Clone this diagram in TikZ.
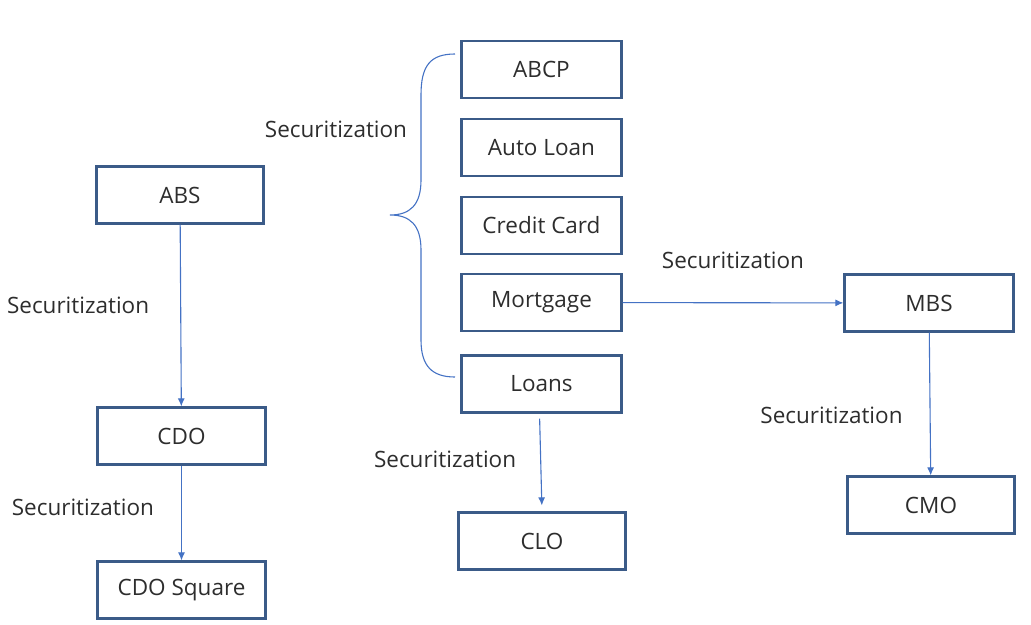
\documentclass[tikz,border=0pt]{standalone}
\usepackage{fontspec}
\setmainfont{Open Sans}
\usetikzlibrary{arrows,arrows.meta,calc,positioning}
\definecolor{boxline}{RGB}{59,91,136}
\definecolor{arrline}{RGB}{68,114,196}
\definecolor{txt}{RGB}{45,45,45}
\tikzstyle{int}=[draw=boxline,line width=2.2pt,minimum height=57pt,inner sep=0pt,text=txt,font=\fontsize{22.5}{27}\selectfont]
\tikzstyle{sec}=[text=txt,inner sep=0pt,font=\fontsize{22.5}{27}\selectfont]
\tikzstyle{arr}=[draw=arrline,line width=1.1pt]

\begin{document}
\begin{tikzpicture}[
      x=1pt,y=-1pt,
      >={Latex[length=8pt,width=7pt]},
      auto
    ]
      \useasboundingbox (0,0) rectangle (1031,624);

      % left column
      \node [int,minimum width=167pt] (abs) at (180,195) {ABS};
      \node [int,minimum width=168pt] (cdo) at (181.5,436) {CDO};
      \node [int,minimum width=168pt] (cdosq) [node distance=154pt,below of=cdo] {CDO Square};

      % middle column
      \node [int,minimum width=160pt] (abcp) at (541.5,69.5) {ABCP};
      \node [int,minimum width=160pt] (auto) [node distance=78pt,below of=abcp] {Auto Loan};
      \node [int,minimum width=160pt] (card) [node distance=78pt,below of=auto] {Credit Card};
      \node [int,minimum width=160pt] (mort) [node distance=77pt,below of=card] {Mortgage};
      \node [int,minimum width=160pt] (loans) [node distance=81.5pt,below of=mort] {Loans};
      \node [int,minimum width=167pt] (clo) at (542,541) {CLO};

      % right column
      \node [int,minimum width=169pt] (mbs) at (929,303) {MBS};
      \node [int,minimum width=167pt] (cmo) at (931,505) {CMO};

      \node [sec] (secpool) at (336,129) {Securitization};
      \draw[arr] (455,54) .. controls (430,54) and (421,66) .. (421,95) -- (421,180)
        .. controls (421,205) and (410,215) .. (390,215)
        .. controls (410,215) and (421,225) .. (421,250) -- (421,340)
        .. controls (421,366) and (432,377) .. (455,377);

      \draw[arr,->] (abs) -- (cdo) node[sec,left=31pt,pos=0.445] (secabs) {Securitization};
      \draw[arr,->] (cdo) -- (cdosq) node[sec,left=27pt,pos=0.44] (seccdo) {Securitization};
      \draw[arr,->,shorten <=5pt,shorten >=6pt] ([xshift=-2pt]loans.south) -- (clo.north) node[sec,left=24pt,pos=0.47] (secloans) {Securitization};
      \draw[arr,->] (mort) -- (mbs) node[sec,above=33pt,pos=0.5] (secmort) {Securitization};
      \draw[arr,->] (mbs) -- (cmo) node[sec,left=27pt,pos=0.58] (secmbs) {Securitization};
    \end{tikzpicture}
\end{document}
